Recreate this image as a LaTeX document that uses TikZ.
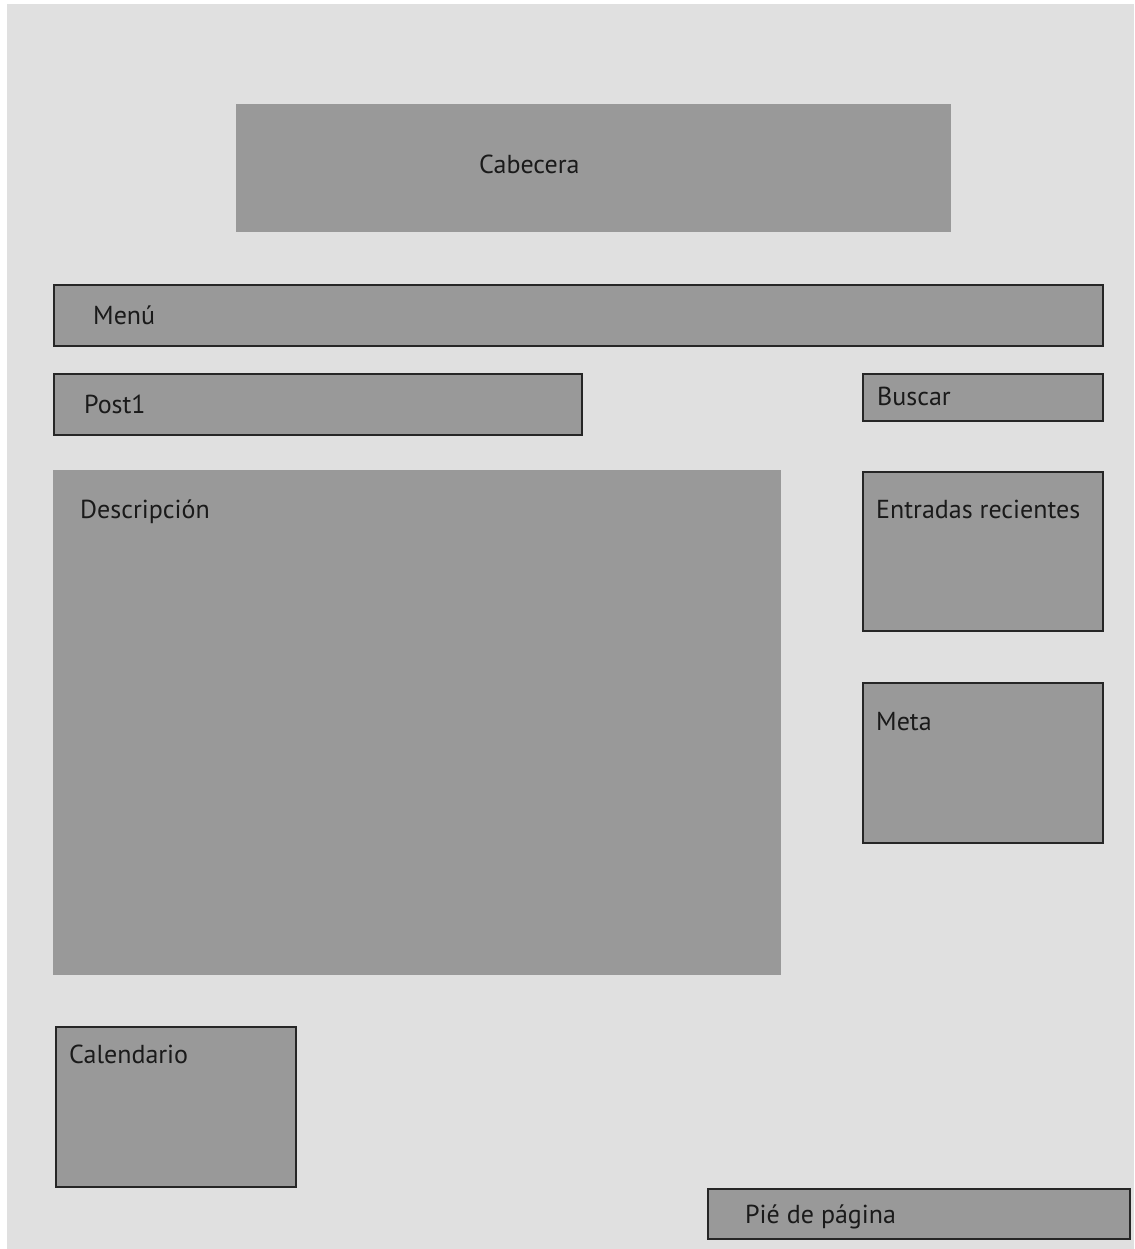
\documentclass[tikz,border=0pt]{standalone}
\usepackage{fontspec}
\setmainfont{PT Sans}
\usepackage{tikz}
\definecolor{fondo}{HTML}{E0E0E0}
\definecolor{gris}{HTML}{999999}
\definecolor{tinta}{HTML}{1A1A1A}
\tikzset{
    caja/.style={fill=gris, inner sep=0pt, anchor=north west},
    cajaborde/.style={caja, draw=black!85, line width=1.5pt},
    etiqueta/.style={anchor=base west, inner sep=0pt, text=tinta, font=\fontsize{26}{30}\selectfont}
}
\begin{document}
\begin{tikzpicture}[x=1pt,y=-1pt]
                \useasboundingbox (0,0) rectangle (1134,1249);
                \fill [white] (0,0) rectangle (1134,1249);
                \fill [fondo] (7,4) rectangle (1134,1249);
                % cajas
                \node [caja, minimum width=715pt, minimum height=128pt] (cabecera) at (236,104) {};
                \node [cajaborde, minimum width=1049pt, minimum height=61pt] (menu) at (53,284) {};
                \node [cajaborde, minimum width=528pt, minimum height=61pt] (post) at (53,373) {};
                \node [cajaborde, minimum width=240pt, minimum height=47pt] (buscar) at (862,373) {};
                \node [caja, minimum width=728pt, minimum height=505pt] (descripcion) at (53,470) {};
                \node [cajaborde, minimum width=240pt, minimum height=159pt] (entradas) at (862,471) {};
                \node [cajaborde, minimum width=240pt, minimum height=160pt] (meta) at (862,682) {};
                \node [cajaborde, minimum width=240pt, minimum height=160pt] (calendario) at (55,1026) {};
                \node [cajaborde, minimum width=422pt, minimum height=50pt] (pie) at (707,1188) {};
                % textos
                \node [etiqueta] (tcabecera) at (479,174) {Cabecera};
                \node [etiqueta] (tmenu) at (93,324) {Menú};
                \node [etiqueta] (tpost) at (84,413) {Post1};
                \node [etiqueta] (tbuscar) at (877,405) {Buscar};
                \node [etiqueta] (tdescripcion) at (80,518) {Descripción};
                \node [etiqueta] (tentradas) at (876,518) {Entradas recientes};
                \node [etiqueta] (tmeta) at (876,730) {Meta};
                \node [etiqueta] (tcalendario) at (69,1063) {Calendario};
                \node [etiqueta] (tpie) at (745,1223) {Pié de página};
\end{tikzpicture}
\end{document}
